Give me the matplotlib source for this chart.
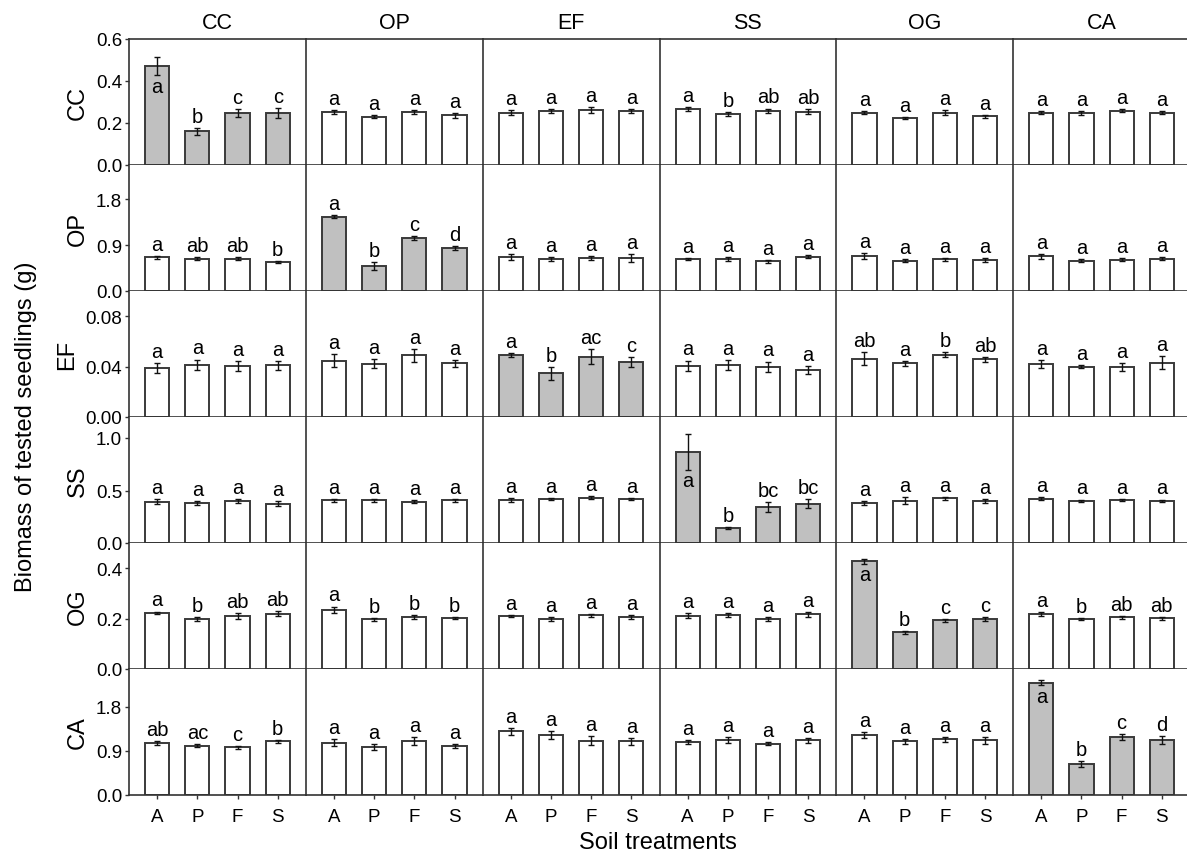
"""Biomass of tested seedlings across soil sources and soil treatments (6x6 panels)."""

import matplotlib
matplotlib.use('Agg')
import matplotlib.pyplot as plt
import numpy as np

plt.rcParams['font.family'] = ['Liberation Sans', 'DejaVu Sans']

SPECIES    = ['CC', 'OP', 'EF', 'SS', 'OG', 'CA']   # rows: tested seedlings
SOILS      = ['CC', 'OP', 'EF', 'SS', 'OG', 'CA']   # columns: soil source
TREATMENTS = ['A', 'P', 'F', 'S']

YMAX  = {'CC': 0.6, 'OP': 2.47, 'EF': 0.1, 'SS': 1.2, 'OG': 0.5, 'CA': 2.57}
YTICK = {'CC': [0.0, 0.2, 0.4, 0.6], 'OP': [0.0, 0.9, 1.8],
         'EF': [0.0, 0.04, 0.08], 'SS': [0.0, 0.5, 1.0],
         'OG': [0.0, 0.2, 0.4], 'CA': [0.0, 0.9, 1.8]}
YFMT  = {'CC': '{:.1f}', 'OP': '{:.1f}', 'EF': '{:.2f}',
         'SS': '{:.1f}', 'OG': '{:.1f}', 'CA': '{:.1f}'}
# home-soil panels whose first letter sits inside the bar
LETTER_INSIDE = ['CC', 'SS', 'OG', 'CA']

# mean biomass, one row of 4 treatments per soil source
MEAN_CC = [[0.470, 0.160, 0.248, 0.248],
           [0.253, 0.230, 0.253, 0.236],
           [0.250, 0.258, 0.262, 0.256],
           [0.267, 0.243, 0.259, 0.253],
           [0.250, 0.222, 0.250, 0.232],
           [0.248, 0.247, 0.259, 0.248]]
SE_CC   = [[0.042, 0.015, 0.020, 0.025],
           [0.010, 0.007, 0.010, 0.012],
           [0.010, 0.008, 0.012, 0.010],
           [0.010, 0.008, 0.010, 0.012],
           [0.008, 0.005, 0.010, 0.007],
           [0.007, 0.008, 0.006, 0.007]]
LET_CC  = [['a', 'b', 'c', 'c'], ['a', 'a', 'a', 'a'], ['a', 'a', 'a', 'a'],
           ['a', 'b', 'ab', 'ab'], ['a', 'a', 'a', 'a'], ['a', 'a', 'a', 'a']]

MEAN_OP = [[0.663, 0.630, 0.630, 0.573],
           [1.460, 0.490, 1.030, 0.845],
           [0.663, 0.630, 0.645, 0.650],
           [0.620, 0.620, 0.585, 0.676],
           [0.680, 0.590, 0.620, 0.610],
           [0.680, 0.590, 0.610, 0.630]]
SE_OP   = [[0.030, 0.030, 0.030, 0.020],
           [0.030, 0.070, 0.040, 0.040],
           [0.060, 0.040, 0.040, 0.080],
           [0.020, 0.040, 0.030, 0.020],
           [0.060, 0.030, 0.030, 0.040],
           [0.050, 0.030, 0.030, 0.030]]
LET_OP  = [['a', 'ab', 'ab', 'b'], ['a', 'b', 'c', 'd'], ['a', 'a', 'a', 'a'],
           ['a', 'a', 'a', 'a'], ['a', 'a', 'a', 'a'], ['a', 'a', 'a', 'a']]

MEAN_EF = [[0.0390, 0.0416, 0.0403, 0.0411],
           [0.0448, 0.0422, 0.0490, 0.0425],
           [0.0494, 0.0347, 0.0478, 0.0435],
           [0.0408, 0.0414, 0.0400, 0.0371],
           [0.0464, 0.0427, 0.0496, 0.0459],
           [0.0422, 0.0400, 0.0396, 0.0432]]
SE_EF   = [[0.0040, 0.0040, 0.0040, 0.0035],
           [0.0050, 0.0035, 0.0050, 0.0030],
           [0.0015, 0.0050, 0.0060, 0.0040],
           [0.0040, 0.0040, 0.0040, 0.0030],
           [0.0050, 0.0020, 0.0020, 0.0020],
           [0.0030, 0.0010, 0.0030, 0.0050]]
LET_EF  = [['a', 'a', 'a', 'a'], ['a', 'a', 'a', 'a'], ['a', 'b', 'ac', 'c'],
           ['a', 'a', 'a', 'a'], ['ab', 'a', 'b', 'ab'], ['a', 'a', 'a', 'a']]

MEAN_SS = [[0.395, 0.378, 0.398, 0.375],
           [0.408, 0.408, 0.395, 0.405],
           [0.408, 0.417, 0.433, 0.417],
           [0.866, 0.146, 0.344, 0.375],
           [0.378, 0.404, 0.427, 0.401],
           [0.423, 0.404, 0.413, 0.404]]
SE_SS   = [[0.025, 0.020, 0.020, 0.025],
           [0.015, 0.015, 0.012, 0.015],
           [0.018, 0.012, 0.010, 0.010],
           [0.170, 0.010, 0.050, 0.040],
           [0.020, 0.030, 0.015, 0.020],
           [0.012, 0.010, 0.010, 0.010]]
LET_SS  = [['a', 'a', 'a', 'a'], ['a', 'a', 'a', 'a'], ['a', 'a', 'a', 'a'],
           ['a', 'b', 'bc', 'bc'], ['a', 'a', 'a', 'a'], ['a', 'a', 'a', 'a']]

MEAN_OG = [[0.223, 0.200, 0.211, 0.220],
           [0.236, 0.198, 0.207, 0.203],
           [0.210, 0.200, 0.213, 0.206],
           [0.211, 0.214, 0.200, 0.217],
           [0.428, 0.146, 0.193, 0.198],
           [0.218, 0.197, 0.205, 0.201]]
SE_OG   = [[0.005, 0.008, 0.012, 0.010],
           [0.012, 0.006, 0.007, 0.005],
           [0.004, 0.008, 0.006, 0.007],
           [0.010, 0.009, 0.008, 0.009],
           [0.010, 0.006, 0.006, 0.007],
           [0.007, 0.004, 0.005, 0.007]]
LET_OG  = [['a', 'b', 'ab', 'ab'], ['a', 'b', 'b', 'b'], ['a', 'a', 'a', 'a'],
           ['a', 'a', 'a', 'a'], ['a', 'b', 'c', 'c'], ['a', 'b', 'ab', 'ab']]

MEAN_CA = [[1.053, 1.006, 0.972, 1.094],
           [1.066, 0.978, 1.100, 1.000],
           [1.298, 1.223, 1.107, 1.100],
           [1.073, 1.114, 1.046, 1.120],
           [1.223, 1.094, 1.141, 1.120],
           [2.290, 0.632, 1.176, 1.120]]
SE_CA   = [[0.040, 0.030, 0.030, 0.030],
           [0.070, 0.060, 0.080, 0.040],
           [0.070, 0.090, 0.090, 0.070],
           [0.040, 0.060, 0.030, 0.050],
           [0.060, 0.050, 0.050, 0.070],
           [0.050, 0.060, 0.060, 0.080]]
LET_CA  = [['ab', 'ac', 'c', 'b'], ['a', 'a', 'a', 'a'], ['a', 'a', 'a', 'a'],
           ['a', 'a', 'a', 'a'], ['a', 'a', 'a', 'a'], ['a', 'b', 'c', 'd']]

MEANS   = {'CC': MEAN_CC, 'OP': MEAN_OP, 'EF': MEAN_EF,
           'SS': MEAN_SS, 'OG': MEAN_OG, 'CA': MEAN_CA}
ERRS    = {'CC': SE_CC, 'OP': SE_OP, 'EF': SE_EF,
           'SS': SE_SS, 'OG': SE_OG, 'CA': SE_CA}
LETTERS = {'CC': LET_CC, 'OP': LET_OP, 'EF': LET_EF,
           'SS': LET_SS, 'OG': LET_OG, 'CA': LET_CA}

EDGE = '#3a3a3a'
GRAY = '#c0c0c0'

fig, axes = plt.subplots(6, 6, figsize=(11.87, 8.53), dpi=100, sharex=True)
fig.subplots_adjust(left=129 / 1187, right=1190 / 1187,
                    top=1 - 40 / 853, bottom=1 - 796 / 853,
                    wspace=0, hspace=0)

x = np.arange(len(TREATMENTS))
for r, sp in enumerate(SPECIES):
    for c, soil in enumerate(SOILS):
        ax = axes[r, c]
        vals = MEANS[sp][c]
        errs = ERRS[sp][c]
        own = (sp == soil)
        ax.bar(x, vals, 0.6, color=GRAY if own else 'white',
               edgecolor=EDGE, linewidth=1.4, zorder=2)
        ax.errorbar(x, vals, yerr=errs, fmt='none', ecolor='#111111',
                    elinewidth=1.0, capsize=2.5, capthick=1.0, zorder=3)
        for j, lab in enumerate(LETTERS[sp][c]):
            if own and j == 0 and sp in LETTER_INSIDE:
                # letter tucked under the lower whisker, inside the bar
                ax.annotate(lab, (j, vals[j] - errs[j]), xytext=(0, -1),
                            textcoords='offset points', ha='center',
                            va='top', fontsize=14.5, zorder=4)
            else:
                ax.annotate(lab, (j, vals[j] + errs[j]), xytext=(0, 1.5),
                            textcoords='offset points', ha='center',
                            va='bottom', fontsize=14.5, zorder=4)
        ax.set_xlim(-0.7, 3.7)
        ax.set_ylim(0, YMAX[sp])
        for side in ['right', 'top']:
            ax.spines[side].set_visible(False)
        if r == 0:
            ax.spines['top'].set_visible(True)
        for side in ['left', 'bottom', 'top']:
            ax.spines[side].set_color('#333333')
            ax.spines[side].set_linewidth(1.2)
        ax.set_xticks(x)
        ax.set_xticklabels(TREATMENTS, fontsize=13.5)
        ax.tick_params(axis='x', direction='out', length=3, width=1,
                       color='#333333', pad=6)
        if c == 0:
            ax.set_yticks(YTICK[sp])
            ax.set_yticklabels([YFMT[sp].format(t) for t in YTICK[sp]],
                               fontsize=13.5)
            ax.tick_params(axis='y', direction='out', length=3, width=1,
                           color='#333333', pad=2)
            ax.set_ylabel(sp, fontsize=17, labelpad=5)
        else:
            ax.set_yticks([])
        if r == 0:
            ax.set_title(soil, fontsize=15.5, pad=8)

fig.text(0.5545, 4 / 853, 'Soil treatments', ha='center', va='baseline',
         fontsize=17)
fig.text(0.0125, 0.5, 'Biomass of tested seedlings (g)', rotation=90,
         ha='left', va='center', fontsize=17)

fig.savefig('out.png', dpi=100)
